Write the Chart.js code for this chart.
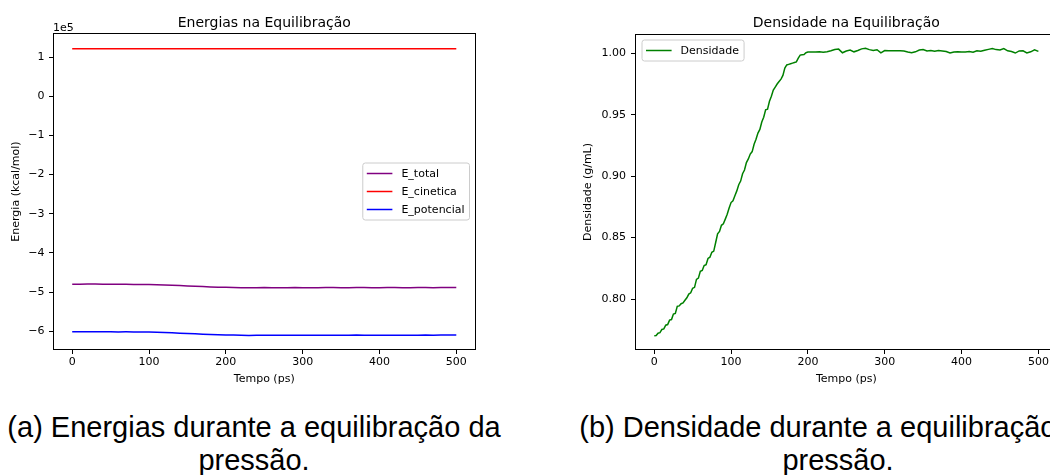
<!DOCTYPE html>
<html lang="pt">
<head>
<meta charset="utf-8">
<title>Equilibração da pressão</title>
<script src="https://cdn.jsdelivr.net/npm/chart.js@4.4.1/dist/chart.umd.min.js"></script>
<style>
  html, body { margin: 0; padding: 0; width: 1050px; height: 475px; overflow: hidden; background: #fff; }
  canvas { position: absolute; top: 0; }
  #energyChart { left: 0; }
  #densityChart { left: 575px; }
  .caption {
    position: absolute; top: 410.5px; width: 700px;
    text-align: center; color: #000;
    font-family: "Liberation Sans", Arial, sans-serif;
    font-size: 29px; line-height: 33px;
  }
</style>
</head>
<body>
<canvas id="energyChart" width="482" height="390"></canvas>
<canvas id="densityChart" width="490" height="390"></canvas>
<div class="caption" style="left:-96px">(a) Energias durante a equilibração da<br>pressão.</div>
<div class="caption" style="left:488px">(b) Densidade durante a equilibração da<br>pressão.</div>

<script>
// ---- data ----
// energies every 10 ps (kcal/mol)
const energyTime = [
  0, 10, 20, 30, 40, 50, 60, 70, 80, 90,
  100, 110, 120, 130, 140, 150, 160, 170, 180, 190,
  200, 210, 220, 230, 240, 250, 260, 270, 280, 290,
  300, 310, 320, 330, 340, 350, 360, 370, 380, 390,
  400, 410, 420, 430, 440, 450, 460, 470, 480, 490, 500
];
const eTotal = [
  -480000, -479800, -479600, -479500, -479700, -480000, -480200, -480000, -480300, -480400,
  -480500, -481100, -481700, -482400, -483300, -484100, -484900, -485800, -486700, -487500,
  -487900, -488200, -488600, -489100, -488800, -488500, -488700, -488900, -488600, -488400,
  -488700, -488800, -488600, -488400, -488500, -488700, -488600, -488300, -488500, -488700,
  -488600, -488400, -488500, -488600, -488800, -488500, -488300, -488700, -488200, -488100, -488300
];
const eCinetica = [
  121500, 121400, 121400, 121400, 121400, 121400, 121400, 121500, 121500, 121500,
  121500, 121500, 121500, 121500, 121500, 121500, 121500, 121500, 121500, 121500,
  121500, 121500, 121500, 121500, 121500, 121500, 121500, 121500, 121500, 121500,
  121500, 121500, 121500, 121500, 121500, 121500, 121500, 121500, 121500, 121500,
  121500, 121500, 121500, 121500, 121500, 121500, 121500, 121500, 121500, 121500, 121500
];
const ePotencial = [
  -601500, -601200, -601000, -600900, -601100, -601400, -601600, -601500, -601800, -601900,
  -602000, -602600, -603200, -603900, -604800, -605600, -606400, -607300, -608200, -609000,
  -609400, -609700, -610100, -610600, -610300, -610000, -610200, -610400, -610100, -609900,
  -610200, -610300, -610100, -609900, -610000, -610200, -610100, -609800, -610000, -610200,
  -610100, -609900, -610000, -610100, -610300, -610000, -609800, -610200, -609700, -609600, -609800
];

// density (g/mL): 2.5 ps while compressing, 5 ps once equilibrated
const densityTime = [
  0, 2.5, 5, 7.5, 10, 12.5, 15, 17.5, 20, 22.5, 25, 27.5, 30, 32.5, 35, 37.5, 40, 42.5, 45, 47.5,
  50, 52.5, 55, 57.5, 60, 62.5, 65, 67.5, 70, 72.5, 75, 77.5, 80, 82.5, 85, 87.5, 90, 92.5, 95, 97.5,
  100, 102.5, 105, 107.5, 110, 112.5, 115, 117.5, 120, 122.5, 125, 127.5, 130, 132.5, 135, 137.5, 140, 142.5, 145, 147.5,
  150, 152.5, 155, 157.5, 160, 162.5, 165, 167.5, 170, 172.5, 175, 177.5, 180, 182.5, 185, 187.5, 190, 192.5, 195, 197.5,
  200, 205, 210, 215, 220, 225, 230, 235, 240, 245, 250, 255, 260, 265, 270, 275, 280, 285, 290, 295,
  300, 305, 310, 315, 320, 325, 330, 335, 340, 345, 350, 355, 360, 365, 370, 375, 380, 385, 390, 395,
  400, 405, 410, 415, 420, 425, 430, 435, 440, 445, 450, 455, 460, 465, 470, 475, 480, 485, 490, 495, 500
];
const densidade = [
  0.7700, 0.7703, 0.7722, 0.7726, 0.7752, 0.7757, 0.7787, 0.7792, 0.7828, 0.7833,
  0.7878, 0.7883, 0.7940, 0.7944, 0.7962, 0.7968, 0.7990, 0.8010, 0.8040, 0.8050,
  0.8088, 0.8095, 0.8160, 0.8170, 0.8225, 0.8232, 0.8272, 0.8280, 0.8330, 0.8340,
  0.8380, 0.8390, 0.8460, 0.8530, 0.8550, 0.8600, 0.8612, 0.8650, 0.8690, 0.8740,
  0.8785, 0.8800, 0.8840, 0.8880, 0.8930, 0.8960, 0.9020, 0.9050, 0.9110, 0.9140,
  0.9180, 0.9200, 0.9260, 0.9300, 0.9350, 0.9380, 0.9440, 0.9480, 0.9540, 0.9545,
  0.9610, 0.9650, 0.9700, 0.9725, 0.9750, 0.9770, 0.9790, 0.9820, 0.9880, 0.9905,
  0.9910, 0.9915, 0.9920, 0.9925, 0.9930, 0.9960, 0.9985, 0.9988, 0.9990, 1.0005,
  1.0010, 1.0011, 1.0010, 1.0012, 1.0009, 1.0013, 1.0020, 1.0031, 1.0034, 1.0004,
  1.0018, 1.0027, 1.0012, 1.0023, 1.0036, 1.0041, 1.0030, 1.0022, 1.0029, 1.0003,
  1.0022, 1.0021, 1.0020, 1.0021, 1.0021, 1.0018, 1.0010, 1.0004, 1.0012, 1.0026,
  1.0031, 1.0019, 1.0023, 1.0016, 1.0022, 1.0019, 1.0014, 1.0002, 1.0011, 1.0012,
  1.0010, 1.0011, 1.0014, 1.0008, 1.0021, 1.0016, 1.0024, 1.0032, 1.0038, 1.0030,
  1.0027, 1.0039, 1.0020, 1.0015, 1.0002, 1.0019, 1.0020, 1.0003, 1.0012, 1.0029, 1.0016
];

// tick labels
const timeTicks = [0, 100, 200, 300, 400, 500];
const energyTicks = [1, 0, -1, -2, -3, -4, -5, -6];   // units of 1e5
const densityTicks = [0.80, 0.85, 0.90, 0.95, 1.00];

// ---- style ----
const FONT = "'DejaVu Sans', sans-serif";
Chart.defaults.font.family = FONT;
Chart.defaults.font.size = 11;
Chart.defaults.color = '#000';

const points = (xs, ys) => xs.map((x, i) => ({ x: x, y: ys[i] }));

// box, title, offset text and legend drawn the matplotlib way
const axesDecor = {
  id: 'axesDecor',
  afterDraw(chart, args, opts) {
    const { ctx, chartArea: a } = chart;
    ctx.save();

    ctx.strokeStyle = '#000';
    ctx.lineWidth = 1;
    ctx.strokeRect(Math.round(a.left) + 0.5, Math.round(a.top) + 0.5,
                   Math.round(a.right - a.left) - 1, Math.round(a.bottom - a.top) - 1);

    ctx.fillStyle = '#000';
    ctx.textBaseline = 'alphabetic';
    ctx.font = '14px ' + FONT;
    ctx.textAlign = 'center';
    ctx.fillText(opts.title, (a.left + a.right) / 2, opts.titleY);

    if (opts.offsetText) {
      ctx.font = '11px ' + FONT;
      ctx.textAlign = 'left';
      ctx.fillText(opts.offsetText, a.left, 31);
    }

    // legend
    const sets = chart.data.datasets;
    ctx.font = '11px ' + FONT;
    const textW = Math.max(...sets.map(d => ctx.measureText(d.label).width));
    const rowH = 18;
    const boxW = 4 + 25.6 + 9 + textW + 5;
    const boxH = sets.length * rowH + 3;
    let bx, by;
    if (opts.legend === 'center right') {
      bx = a.right - 6 - boxW;
      by = (a.top + a.bottom) / 2 - boxH / 2;
    } else {
      bx = a.left + 7;
      by = a.top + 6;
    }
    ctx.beginPath();
    ctx.roundRect(bx, by, boxW, boxH, 2.5);
    ctx.fillStyle = 'rgba(255,255,255,0.8)';
    ctx.fill();
    ctx.strokeStyle = '#cccccc';
    ctx.stroke();

    ctx.textBaseline = 'middle';
    ctx.textAlign = 'left';
    sets.forEach((d, i) => {
      const y = by + 10.5 + i * rowH;
      ctx.strokeStyle = d.borderColor;
      ctx.lineWidth = 1.5;
      ctx.beginPath();
      ctx.moveTo(bx + 4, y);
      ctx.lineTo(bx + 29.6, y);
      ctx.stroke();
      ctx.fillStyle = '#000';
      ctx.fillText(d.label, bx + 38.6, y + 0.5);
    });
    ctx.restore();
  }
};

function timeAxis() {
  return {
    type: 'linear',
    min: -25,
    max: 525,
    afterBuildTicks: s => { s.ticks = timeTicks.map(v => ({ value: v })); },
    afterFit: s => { s.height = 40; },
    grid: { drawOnChartArea: false, drawTicks: true, tickLength: 4, tickColor: '#000', tickWidth: 1 },
    border: { display: false },
    ticks: { padding: 2, maxRotation: 0, autoSkip: false },
    title: { display: true, text: 'Tempo (ps)', padding: { top: 0, bottom: 4.4 } }
  };
}

function lineSet(label, xs, ys, color) {
  return {
    label: label,
    data: points(xs, ys),
    borderColor: color,
    backgroundColor: color,
    borderWidth: 1.5,
    pointRadius: 0,
    tension: 0,
    fill: false
  };
}

// ---- energies ----
new Chart(document.getElementById('energyChart'), {
  type: 'line',
  data: {
    datasets: [
      lineSet('E_total', energyTime, eTotal, '#800080'),
      lineSet('E_cinetica', energyTime, eCinetica, '#ff0000'),
      lineSet('E_potencial', energyTime, ePotencial, '#0000ff')
    ]
  },
  options: {
    responsive: false,
    animation: false,
    layout: { padding: { top: 33, right: 6.5, left: 0, bottom: 0 } },
    scales: {
      x: timeAxis(),
      y: {
        type: 'linear',
        min: -647800,
        max: 161500,
        afterBuildTicks: s => { s.ticks = energyTicks.map(v => ({ value: v * 1e5 })); },
        afterFit: s => { s.width = 53; },
        grid: { drawOnChartArea: false, drawTicks: true, tickLength: 4, tickColor: '#000', tickWidth: 1 },
        border: { display: false },
        ticks: {
          padding: 4.5,
          callback: v => {
            const n = Math.round(v / 1e5);
            return n < 0 ? '\u2212' + Math.abs(n) : String(n);
          }
        },
        title: { display: true, text: 'Energia (kcal/mol)', padding: { top: 10, bottom: 0 } }
      }
    },
    plugins: {
      legend: { display: false },
      tooltip: { enabled: false },
      axesDecor: { title: 'Energias na Equilibração', titleY: 27, offsetText: '1e5', legend: 'center right' }
    }
  },
  plugins: [axesDecor]
});

// ---- density ----
new Chart(document.getElementById('densityChart'), {
  type: 'line',
  data: {
    datasets: [lineSet('Densidade', densityTime, densidade, '#008000')]
  },
  options: {
    responsive: false,
    animation: false,
    layout: { padding: { top: 34, right: 7.4, left: 0, bottom: 0 } },
    scales: {
      x: timeAxis(),
      y: {
        type: 'linear',
        min: 0.7585,
        max: 1.0157,
        afterBuildTicks: s => { s.ticks = densityTicks.map(v => ({ value: v })); },
        afterFit: s => { s.width = 60; },
        grid: { drawOnChartArea: false, drawTicks: true, tickLength: 4, tickColor: '#000', tickWidth: 1 },
        border: { display: false },
        ticks: { padding: 5, callback: v => v.toFixed(2) },
        title: { display: true, text: 'Densidade (g/mL)', padding: { top: 6.4, bottom: 0 } }
      }
    },
    plugins: {
      legend: { display: false },
      tooltip: { enabled: false },
      axesDecor: { title: 'Densidade na Equilibração', titleY: 27, legend: 'upper left' }
    }
  },
  plugins: [axesDecor]
});
</script>
</body>
</html>
